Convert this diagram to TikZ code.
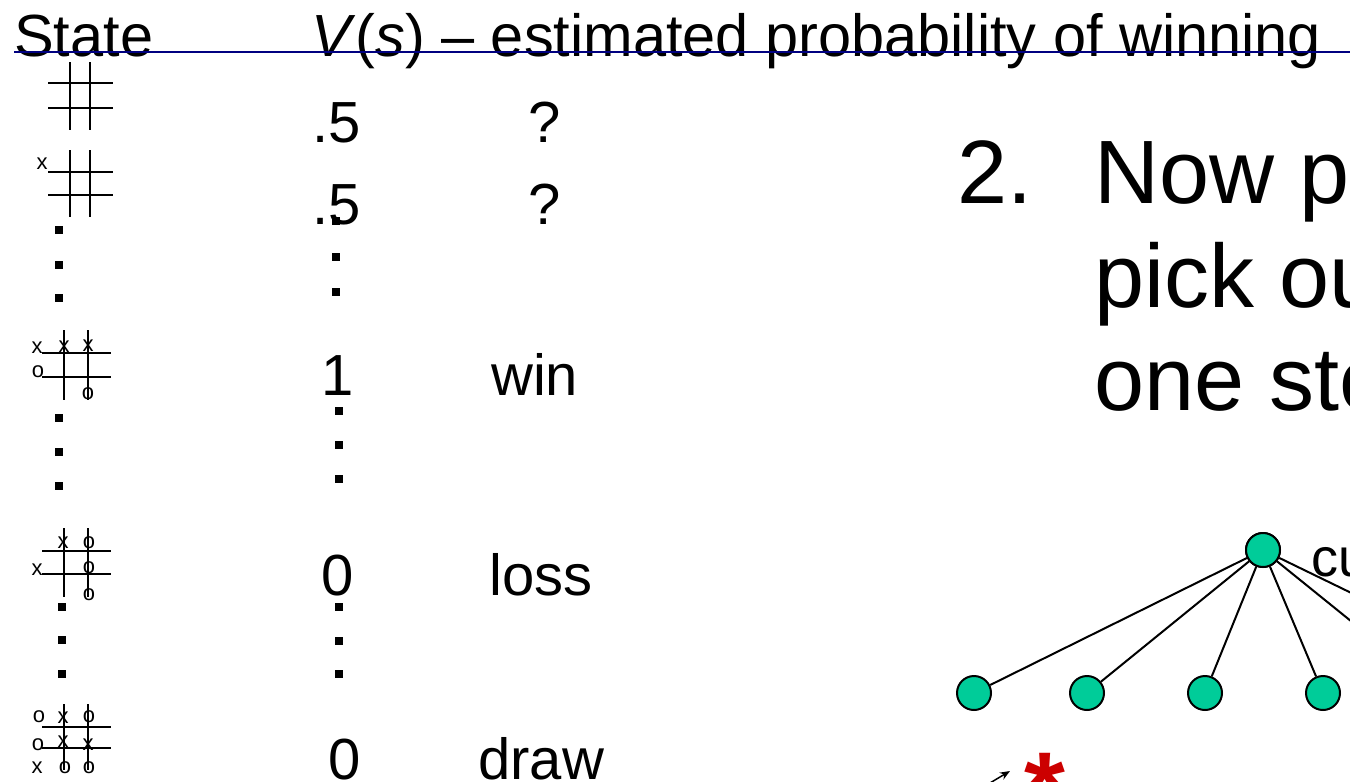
\documentclass[tikz,border=0pt]{standalone}
\usepackage{fontspec}
\setmainfont{Liberation Sans}
\usetikzlibrary{arrows.meta}
\definecolor{navyline}{RGB}{0,0,128}
\definecolor{nodegreen}{RGB}{0,204,153}
\definecolor{starred}{RGB}{204,0,0}
\begin{document}
\begin{tikzpicture}[x=1pt,y=-1pt,
  lbl/.style={anchor=base west,inner sep=0,font=\fontsize{58}{60}\selectfont},
  hdr/.style={anchor=base west,inner sep=0,font=\fontsize{59.5}{60}\selectfont},
  big/.style={anchor=base west,inner sep=0,font=\fontsize{90}{104}\selectfont},
  mk/.style={inner sep=0,font=\fontsize{22}{24}\selectfont},
  gridline/.style={line width=2pt},
  dotsq/.style={rectangle,fill=black,inner sep=0,minimum size=8pt},
  tnode/.style={circle,draw=black,line width=2pt,fill=nodegreen,minimum size=34pt,inner sep=0},
  tedge/.style={line width=2pt}]
\useasboundingbox (0,0) rectangle (1350,782);
\clip (0,0) rectangle (1350,782);

% header
\node[hdr] (hstate) at (14,56) {State};
\node[hdr] (hval) at (311,56) {\textit{V}(\textit{s}) – estimated probability of winning};

% values
\node[lbl] (v1) at (312,142) {.5};
\node[lbl] (q1) at (528,142) {?};
\node[lbl] (v2) at (312,224) {.5};
\node[lbl] (q2) at (528,224) {?};
\node[lbl] (v3) at (321,395) {1};
\node[lbl] (w3) at (491,395) {win};
\node[lbl] (v4) at (321,595) {0};
\node[lbl] (w4) at (489,595) {loss};
\node[lbl] (v5) at (328,779) {0};
\node[lbl] (w5) at (478,779) {draw};

% value column dots
\node[dotsq] (vd1) at (336,221) {};
\node[dotsq] (vd2) at (336,257) {};
\node[dotsq] (vd3) at (336,292) {};
\node[dotsq] (vd4) at (339,411) {};
\node[dotsq] (vd5) at (339,445) {};
\node[dotsq] (vd6) at (339,479) {};
\node[dotsq] (vd7) at (339,607) {};
\node[dotsq] (vd8) at (339,641) {};
\node[dotsq] (vd9) at (339,674) {};

% state column dots
\node[dotsq] (sd1) at (59,230) {};
\node[dotsq] (sd2) at (59,265) {};
\node[dotsq] (sd3) at (59,298) {};
\node[dotsq] (sd4) at (59,418) {};
\node[dotsq] (sd5) at (59,452) {};
\node[dotsq] (sd6) at (59,486) {};
\node[dotsq] (sd7) at (62,607) {};
\node[dotsq] (sd8) at (62,640) {};
\node[dotsq] (sd9) at (62,674) {};

% grid 1 (empty)
\draw[gridline] (70,62) -- (70,130) (90,62) -- (90,130) (48,83) -- (113,83) (48,108) -- (113,108);
% grid 2
\draw[gridline] (70,150) -- (70,217) (90,150) -- (90,217) (48,172) -- (113,172) (48,195) -- (113,195);
\node[mk] (m2a) at (42,164) {x};
% grid 3 (win)
\draw[gridline] (64,330) -- (64,400) (88,330) -- (88,400) (42,353) -- (111,353) (42,377) -- (111,377);
\node[mk] (m3a) at (37,348) {x};
\node[mk] (m3b) at (64,347) {x};
\node[mk] (m3c) at (88,346) {x};
\node[mk] (m3d) at (38,372) {o};
\node[mk] (m3e) at (88,394) {o};
% grid 4 (loss)
\draw[gridline] (64,528) -- (64,597) (88,528) -- (88,597) (42,551) -- (111,551) (42,574) -- (111,574);
\node[mk] (m4a) at (63,543) {x};
\node[mk] (m4b) at (89,543) {o};
\node[mk] (m4c) at (37,570) {x};
\node[mk] (m4d) at (89,568) {o};
\node[mk] (m4e) at (89,595) {o};
% grid 5 (draw)
\draw[gridline] (64,704) -- (64,770) (88,704) -- (88,770) (42,727) -- (111,727) (42,748) -- (111,748);
\node[mk] (m5a) at (39,717) {o};
\node[mk] (m5b) at (63,718) {x};
\node[mk] (m5c) at (89,717) {o};
\node[mk] (m5d) at (38,745) {o};
\node[mk] (m5e) at (63,742) {x};
\node[mk] (m5f) at (88,745) {x};
\node[mk] (m5g) at (37,768) {x};
\node[mk] (m5h) at (65,768) {o};
\node[mk] (m5i) at (89,768) {o};

% header rule
\draw[navyline,line width=2.5pt] (14,52) -- (1350,52);

% right text
\node[big] (t2) at (957,203) {2.};
\node[big] (t2a) at (1094,203) {Now p};
\node[big] (t2b) at (1094,307) {pick ou};
\node[big] (t2c) at (1094,410) {one ste};

% tree
\node[tnode] (root) at (1263,550) {};
\node[tnode] (c1) at (974,693) {};
\node[tnode] (c2) at (1087,693) {};
\node[tnode] (c3) at (1205,693) {};
\node[tnode] (c4) at (1323,693) {};
\coordinate (c5) at (1440,693);
\coordinate (c6) at (1557,693);
\foreach \c in {c1,c2,c3,c4} \draw[tedge] (root) -- (\c);
\draw[tedge] (root) -- (c5);
\draw[tedge] (root) -- (c6);
\node[tnode] (rootagain) at (1263,550) {};
\node[anchor=base west,inner sep=0,font=\fontsize{54}{56}\selectfont] (cur) at (1311,576) {cu};

% star and arrow
\node[anchor=base,inner sep=0,text=starred,font=\fontsize{105}{110}\selectfont\bfseries] (star) at (1045,825) {*};
\coordinate (arrfrom) at (975,792);
\coordinate (arrto) at (1010,771);
\draw[line width=1.5pt,-{Stealth[length=10pt,width=8pt]}] (arrfrom) -- (arrto);
\end{tikzpicture}
\end{document}
